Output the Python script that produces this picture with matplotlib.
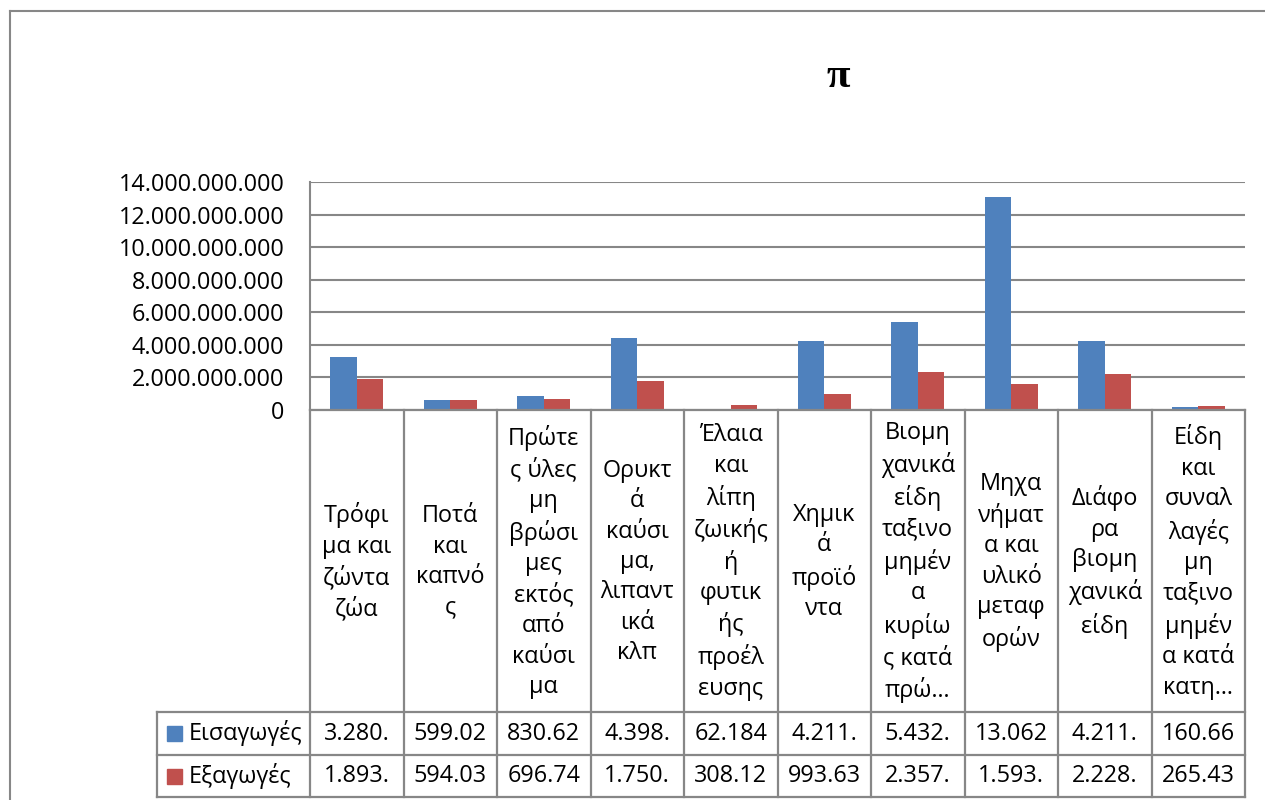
import matplotlib
matplotlib.use("Agg")
import matplotlib.pyplot as plt
from matplotlib.patches import Rectangle
import numpy as np

# ---------------- data ----------------
title = "π"
categories = [
    "Τρόφι\nμα και\nζώντα\nζώα",
    "Ποτά\nκαι\nκαπνό\nς",
    "Πρώτε\nς ύλες\nμη\nβρώσι\nμες\nεκτός\nαπό\nκαύσι\nμα",
    "Ορυκτ\nά\nκαύσι\nμα,\nλιπαντ\nικά\nκλπ",
    "Έλαια\nκαι\nλίπη\nζωικής\nή\nφυτικ\nής\nπροέλ\nευσης",
    "Χημικ\nά\nπροϊό\nντα",
    "Βιομη\nχανικά\nείδη\nταξινο\nμημέν\nα\nκυρίω\nς κατά\nπρώ…",
    "Μηχα\nνήματ\nα και\nυλικό\nμεταφ\nορών",
    "Διάφο\nρα\nβιομη\nχανικά\nείδη",
    "Είδη\nκαι\nσυναλ\nλαγές\nμη\nταξινο\nμημέν\nα κατά\nκατη…",
]
series_names = ["Εισαγωγές", "Εξαγωγές"]
imports = [3280400000, 599020000, 830620000, 4398300000, 62184000,
           4211200000, 5432100000, 13062000000, 4211500000, 160660000]
exports = [1893200000, 594030000, 696740000, 1750100000, 308120000,
           993630000, 2357400000, 1593200000, 2228300000, 265430000]
y_ticks = [0, 2000000000, 4000000000, 6000000000, 8000000000,
           10000000000, 12000000000, 14000000000]

# ---------------- style ----------------
BLUE = "#4F81BD"
RED = "#C0504D"
GRAY = "#878787"
FS = 16.8

plt.rcParams['font.family'] = ['Open Sans', 'DejaVu Sans']

def fmt(v):
    return f"{int(v):,}".replace(",", ".")

W, H = 1265, 800
fig = plt.figure(figsize=(W / 100, H / 100), dpi=100)
fig.patch.set_facecolor("white")

L, R, T, B = 310, 1245, 182, 410
ax = fig.add_axes([L / W, 1 - B / H, (R - L) / W, (B - T) / H])
n = len(categories)
x = np.arange(n)
bw = 0.283
ax.bar(x - bw / 2, imports, bw, color=BLUE, zorder=3)
ax.bar(x + bw / 2, exports, bw, color=RED, zorder=3)
ax.set_xlim(-0.5, n - 0.5)
ax.set_ylim(0, y_ticks[-1])
ax.set_yticks(y_ticks)
ax.set_yticklabels([fmt(v) for v in y_ticks])
ax.yaxis.grid(True, color=GRAY, lw=1.5, zorder=0)
ax.set_axisbelow(True)
for s in ["top", "right", "bottom"]:
    ax.spines[s].set_visible(False)
ax.spines["left"].set_color(GRAY)
ax.spines["left"].set_linewidth(1.5)
ax.tick_params(axis="y", length=0, pad=18.5, labelsize=FS, labelcolor="black")
ax.tick_params(axis="x", length=0, labelbottom=False)
ax.set_facecolor("none")

# overlay in pixel coordinates for table, border, title
ov2 = fig.add_axes([0, 0, 1, 1], zorder=5)
ov2.set_xlim(0, W)
ov2.set_ylim(H, 0)
ov2.axis("off")
ov2.patch.set_alpha(0)

# outer chart border (extends beyond the picture on right/bottom)
ov2.plot([10, W + 5], [11, 11], color=GRAY, lw=1.5)
ov2.plot([10, 10], [11, H + 5], color=GRAY, lw=1.5)

# title
ov2.text(838, 77, title, ha="center", va="center", fontsize=31,
         fontweight="bold", family=["Liberation Serif", "DejaVu Serif"])

# table geometry
LEG_L = 157
ROW1, ROW2, ROW3 = 712, 755, 797
bounds = [L + i * (R - L) / n for i in range(n + 1)]
lw = 1.6
# horizontal lines
ov2.plot([L, R], [B, B], color=GRAY, lw=lw)
for yy in (ROW1, ROW2, ROW3):
    ov2.plot([LEG_L, R], [yy, yy], color=GRAY, lw=lw)
# vertical lines
for xb in bounds:
    ov2.plot([xb, xb], [B, ROW3], color=GRAY, lw=lw)
ov2.plot([LEG_L, LEG_L], [ROW1, ROW3], color=GRAY, lw=lw)

# category labels
for i, cat in enumerate(categories):
    cx = (bounds[i] + bounds[i + 1]) / 2
    ov2.text(cx, (B + ROW1) / 2 + 1, cat, ha="center", va="center",
             fontsize=FS, linespacing=1.36, multialignment="center")

# data rows
series_vals = [imports, exports]
colors = [BLUE, RED]
rows = [(ROW1, ROW2), (ROW2, ROW3)]
for name, vals, col, (r0, r1) in zip(series_names, series_vals, colors, rows):
    cy = (r0 + r1) / 2
    ov2.add_patch(Rectangle((167, cy - 7.5), 15, 15, color=col))
    ov2.text(189, cy, name, ha="left", va="center", fontsize=FS)
    for i, v in enumerate(vals):
        cx = (bounds[i] + bounds[i + 1]) / 2
        ov2.text(cx, cy, fmt(v)[:6], ha="center", va="center", fontsize=FS)

fig.savefig("out.png", dpi=100)
